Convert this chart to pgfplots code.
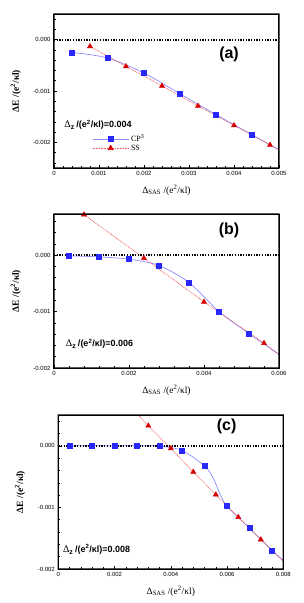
\documentclass[border=0pt]{standalone}
\usepackage{pgfplots}
\pgfplotsset{compat=1.18}
\usepackage{fontspec}
\setmainfont{Liberation Sans}
\newfontfamily\serif{Liberation Serif}
\definecolor{mblue}{RGB}{40,40,250}
\definecolor{lblue}{RGB}{140,140,255}
\definecolor{mred}{RGB}{215,0,0}
\definecolor{lred}{RGB}{245,90,90}
\pgfplotsset{
  panel/.style={
    scale only axis, width=225pt, height=154pt,
    axis line style={black, line width=1pt, solid},
    tick pos=left, tick align=inside,
    major tick length=3pt, minor tick length=1.6pt,
    tick style={black, line width=0.5pt, solid},
    every tick label/.append style={font=\fontsize{6}{7}\selectfont},
    ytick={-0.002,-0.001,0}, yticklabels={-0.002,-0.001,0.000},
    scaled x ticks=false, scaled y ticks=false,
    every axis y label/.style={at={(axis description cs:-0.17,0.5)}, rotate=90, anchor=center},
    every axis x label/.style={at={(axis description cs:0.5,-0.145)}, anchor=center},
    ylabel={\serif\bfseries\fontsize{9.5}{10}\selectfont ΔE /(e\textsuperscript{2}/κl)},
    xlabel={\serif\fontsize{9.5}{10}\selectfont Δ\textsubscript{SAS} /(e\textsuperscript{2}/κl)},
  },
  bline/.style={lblue, line width=0.7pt, smooth, tension=0.5, forget plot},
  rline/.style={lred, line width=0.7pt, dash pattern=on 0.8pt off 0.8pt, forget plot},
  zline/.style={black, line width=1.8pt, dash pattern=on 1.3pt off 1.4pt, forget plot},
  bmark/.style={only marks, mark=square*, mark size=2.5pt, mark options={solid, fill=mblue, draw=mblue}, forget plot},
  rmark/.style={only marks, mark=triangle*, mark size=3pt, mark options={solid, fill=mred, draw=mred}, forget plot},
}
\newcommand{\dz}[1]{{\serif\fontsize{10}{11}\selectfont Δ}\textsubscript{\bfseries z}\,{\bfseries\fontsize{9}{10}\selectfont /(e\textsuperscript{2}/κl)=#1}}
\begin{document}
\begin{tikzpicture}
\useasboundingbox (0,0) rectangle (303pt,-603pt);
% ---------------- (a)
\begin{axis}[panel, at={(54pt,-14pt)}, anchor=north west,
  xmin=0, xmax=0.005, ymin=-0.0025, ymax=0.0005,
  xtick={0,0.001,0.002,0.003,0.004,0.005}, xticklabels={0,0.001,0.002,0.003,0.004,0.005},
  minor xtick={0.0002,0.0004,0.0006,0.0008,0.0012,0.0014,0.0016,0.0018,0.0022,0.0024,0.0026,0.0028,0.0032,0.0034,0.0036,0.0038,0.0042,0.0044,0.0046,0.0048},
  minor ytick={-0.0024,-0.0022,-0.0018,-0.0016,-0.0014,-0.0012,-0.0008,-0.0006,-0.0004,-0.0002,0.0002,0.0004},
  legend style={draw=none, fill=none, at={(rel axis cs:0.165,0.235)}, anchor=north west,
    font=\serif\fontsize{8}{9}\selectfont, row sep=-2.5pt, inner sep=1pt},
  legend cell align=left,
  legend image code/.code={\draw[mark repeat=2,mark phase=2,#1] plot coordinates {(0pt,0pt)(18pt,0pt)(36pt,0pt)};},
]
\addplot[bline] coordinates {(0.0004,-0.000248)(0.0012,-0.000358)(0.002,-0.000651)(0.0028,-0.001055)(0.0036,-0.00146)(0.0044,-0.00185)(0.005,-0.00215)};
\addplot[rline] coordinates {(0.0008,-0.00013)(0.0016,-0.00052)(0.0024,-0.0009)(0.0032,-0.00129)(0.004,-0.00167)(0.0048,-0.00205)(0.005,-0.00214)};
\addplot[zline] coordinates {(0,0)(0.005,0)};
\addplot[bmark] coordinates {(0.0004,-0.000248)(0.0012,-0.000358)(0.002,-0.000651)(0.0028,-0.001055)(0.0036,-0.00146)(0.0044,-0.00185)};
\addplot[rmark] coordinates {(0.0008,-0.00013)(0.0016,-0.00052)(0.0024,-0.0009)(0.0032,-0.00129)(0.004,-0.00167)(0.0048,-0.00205)};
\addlegendimage{lblue, line width=0.7pt, mark=square*, mark size=2.5pt, mark options={solid, fill=mblue, draw=mblue}}
\addlegendentry{CP\textsuperscript{3}}
\addlegendimage{lred, line width=0.7pt, dash pattern=on 0.8pt off 0.8pt, mark=triangle*, mark size=3pt, mark options={solid, fill=mred, draw=mred}}
\addlegendentry{SS}
\node[anchor=west, inner sep=0pt] at (rel axis cs:0.045,0.28) {\dz{0.004}};
\node[inner sep=0pt, font=\bfseries\fontsize{16}{17}\selectfont] at (rel axis cs:0.778,0.74) {(a)};
\end{axis}
% ---------------- (b)
\begin{axis}[panel, at={(54pt,-214pt)}, anchor=north west,
  xmin=0, xmax=0.006, ymin=-0.002, ymax=0.00073,
  xtick={0,0.002,0.004,0.006}, xticklabels={0,0.002,0.004,0.006},
  minor xtick={0.0004,0.0008,0.0012,0.0016,0.0024,0.0028,0.0032,0.0036,0.0044,0.0048,0.0052,0.0056},
  minor ytick={-0.0018,-0.0016,-0.0014,-0.0012,-0.0008,-0.0006,-0.0004,-0.0002,0.0002,0.0004,0.0006},
]
\addplot[bline] coordinates {(0.0004,-0.000012)(0.0012,-0.00003)(0.002,-0.000071)(0.0028,-0.000183)(0.0036,-0.000485)(0.0044,-0.001)(0.0052,-0.00139)(0.006,-0.00176)};
\addplot[rline] coordinates {(0.0008,0.00072)(0.0024,-0.000053)(0.004,-0.000828)(0.0056,-0.00156)(0.006,-0.00176)};
\addplot[zline] coordinates {(0,0)(0.006,0)};
\addplot[bmark] coordinates {(0.0004,-0.000012)(0.0012,-0.00003)(0.002,-0.000071)(0.0028,-0.000183)(0.0036,-0.000485)(0.0044,-0.001)(0.0052,-0.00139)};
\addplot[rmark] coordinates {(0.0008,0.00072)(0.0024,-0.000053)(0.004,-0.000828)(0.0056,-0.00156)};
\node[anchor=west, inner sep=0pt] at (rel axis cs:0.052,0.157) {\dz{0.006}};
\node[inner sep=0pt, font=\bfseries\fontsize{16}{17}\selectfont] at (rel axis cs:0.778,0.896) {(b)};
\end{axis}
% ---------------- (c)
\begin{axis}[panel, at={(58.3pt,-415pt)}, anchor=north west,
  xmin=0, xmax=0.008, ymin=-0.002, ymax=0.0005,
  xtick={0,0.002,0.004,0.006,0.008}, xticklabels={0,0.002,0.004,0.006,0.008},
  minor xtick={0.0004,0.0008,0.0012,0.0016,0.0024,0.0028,0.0032,0.0036,0.0044,0.0048,0.0052,0.0056,0.0064,0.0068,0.0072,0.0076},
  minor ytick={-0.0018,-0.0016,-0.0014,-0.0012,-0.0008,-0.0006,-0.0004,-0.0002,0.0002,0.0004},
]
\addplot[bline] coordinates {(0.0004,0)(0.0012,0)(0.002,0)(0.0028,0)(0.0036,-0.000005)(0.0044,-0.000076)(0.0052,-0.000326)(0.0055,-0.00052)(0.00575,-0.00078)(0.006,-0.00098)(0.0068,-0.001337)(0.0076,-0.001696)(0.008,-0.00186)};
\addplot[rline] coordinates {(0.0028,0.00052)(0.0032,0.000326)(0.004,-0.000043)(0.0048,-0.000424)(0.0056,-0.000793)(0.0064,-0.001158)(0.0072,-0.001522)(0.008,-0.00188)};
\addplot[zline] coordinates {(0,0)(0.008,0)};
\addplot[bmark] coordinates {(0.0004,0)(0.0012,0)(0.002,0)(0.0028,0)(0.0036,-0.000005)(0.0044,-0.000076)(0.0052,-0.000326)(0.006,-0.00098)(0.0068,-0.001337)(0.0076,-0.001696)};
\addplot[rmark] coordinates {(0.0032,0.000326)(0.004,-0.000043)(0.0048,-0.000424)(0.0056,-0.000793)(0.0064,-0.001158)(0.0072,-0.001522)};
\node[anchor=west, inner sep=0pt] at (rel axis cs:0.02,0.126) {\dz{0.008}};
\node[inner sep=0pt, font=\bfseries\fontsize{16}{17}\selectfont] at (rel axis cs:0.748,0.924) {(c)};
\end{axis}
% frames of the three panels, as filled rings
\fill[black, even odd rule] (53.4pt,-13.4pt) rectangle (279.6pt,-168.6pt) (54.6pt,-14.6pt) rectangle (278.4pt,-167.4pt);
\fill[black, even odd rule] (53.4pt,-213.4pt) rectangle (279.6pt,-368.6pt) (54.6pt,-214.6pt) rectangle (278.4pt,-367.4pt);
\fill[black, even odd rule] (57.7pt,-414.4pt) rectangle (283.9pt,-569.6pt) (58.9pt,-415.6pt) rectangle (282.7pt,-568.4pt);
\end{tikzpicture}
\end{document}
